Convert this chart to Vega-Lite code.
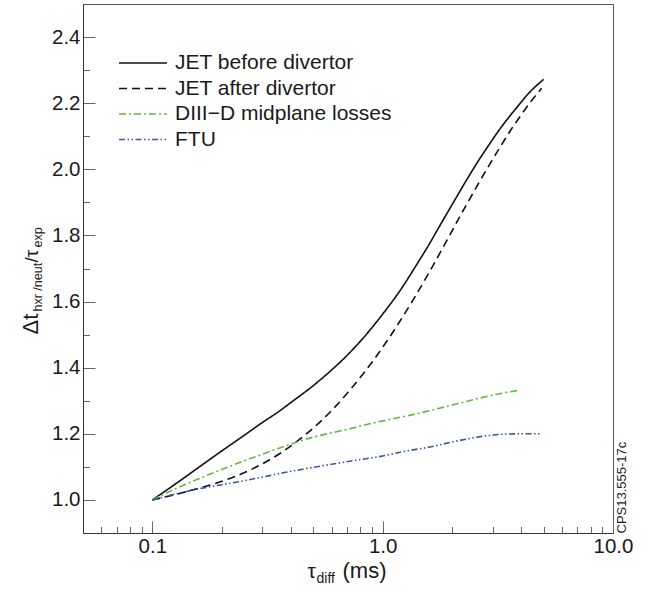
{
  "$schema": "https://vega.github.io/schema/vega-lite/v6.json",
  "width": 530,
  "height": 529,
  "autosize": {"type": "none"},
  "padding": {"left": 83, "top": 4, "right": 33, "bottom": 59},
  "background": "white",
  "config": {
    "view": {"stroke": "#555", "strokeWidth": 1},
    "font": "Liberation Sans",
    "axis": {"grid": false, "labelFont": "Liberation Sans", "titleFont": "Liberation Sans", "labelColor": "#1a1a1a", "titleColor": "#1a1a1a", "domainColor": "#333", "tickColor": "#666", "titleFontWeight": "normal", "labelFontWeight": "normal", "labelFlush": false, "labelOverlap": false}
  },
  "data": {"values": [
    {"s": "JET before divertor", "x": 0.1, "y": 1.0},
    {"s": "JET before divertor", "x": 0.13, "y": 1.055},
    {"s": "JET before divertor", "x": 0.16, "y": 1.1},
    {"s": "JET before divertor", "x": 0.2, "y": 1.148},
    {"s": "JET before divertor", "x": 0.25, "y": 1.195},
    {"s": "JET before divertor", "x": 0.3, "y": 1.234},
    {"s": "JET before divertor", "x": 0.35, "y": 1.265},
    {"s": "JET before divertor", "x": 0.4, "y": 1.295},
    {"s": "JET before divertor", "x": 0.5, "y": 1.346},
    {"s": "JET before divertor", "x": 0.6, "y": 1.393},
    {"s": "JET before divertor", "x": 0.7, "y": 1.437},
    {"s": "JET before divertor", "x": 0.8, "y": 1.48},
    {"s": "JET before divertor", "x": 1.0, "y": 1.562},
    {"s": "JET before divertor", "x": 1.2, "y": 1.637},
    {"s": "JET before divertor", "x": 1.4, "y": 1.71},
    {"s": "JET before divertor", "x": 1.6, "y": 1.776},
    {"s": "JET before divertor", "x": 1.8, "y": 1.838},
    {"s": "JET before divertor", "x": 2.06, "y": 1.908},
    {"s": "JET before divertor", "x": 2.31, "y": 1.967},
    {"s": "JET before divertor", "x": 2.6, "y": 2.025},
    {"s": "JET before divertor", "x": 2.9, "y": 2.075},
    {"s": "JET before divertor", "x": 3.3, "y": 2.131},
    {"s": "JET before divertor", "x": 3.8, "y": 2.185},
    {"s": "JET before divertor", "x": 4.4, "y": 2.237},
    {"s": "JET before divertor", "x": 5.0, "y": 2.272},
    {"s": "JET after divertor", "x": 0.1, "y": 1.0},
    {"s": "JET after divertor", "x": 0.13, "y": 1.019},
    {"s": "JET after divertor", "x": 0.16, "y": 1.036},
    {"s": "JET after divertor", "x": 0.19, "y": 1.051},
    {"s": "JET after divertor", "x": 0.25, "y": 1.082},
    {"s": "JET after divertor", "x": 0.3, "y": 1.109},
    {"s": "JET after divertor", "x": 0.37, "y": 1.147},
    {"s": "JET after divertor", "x": 0.45, "y": 1.191},
    {"s": "JET after divertor", "x": 0.55, "y": 1.244},
    {"s": "JET after divertor", "x": 0.63, "y": 1.286},
    {"s": "JET after divertor", "x": 0.7, "y": 1.322},
    {"s": "JET after divertor", "x": 0.88, "y": 1.408},
    {"s": "JET after divertor", "x": 1.04, "y": 1.479},
    {"s": "JET after divertor", "x": 1.15, "y": 1.525},
    {"s": "JET after divertor", "x": 1.35, "y": 1.603},
    {"s": "JET after divertor", "x": 1.6, "y": 1.691},
    {"s": "JET after divertor", "x": 1.9, "y": 1.785},
    {"s": "JET after divertor", "x": 2.19, "y": 1.864},
    {"s": "JET after divertor", "x": 2.4, "y": 1.913},
    {"s": "JET after divertor", "x": 2.65, "y": 1.966},
    {"s": "JET after divertor", "x": 2.95, "y": 2.021},
    {"s": "JET after divertor", "x": 3.24, "y": 2.068},
    {"s": "JET after divertor", "x": 3.64, "y": 2.124},
    {"s": "JET after divertor", "x": 3.95, "y": 2.16},
    {"s": "JET after divertor", "x": 4.4, "y": 2.205},
    {"s": "JET after divertor", "x": 4.9, "y": 2.245},
    {"s": "DIII−D midplane losses", "x": 0.1, "y": 1.0},
    {"s": "DIII−D midplane losses", "x": 0.13, "y": 1.038},
    {"s": "DIII−D midplane losses", "x": 0.16, "y": 1.065},
    {"s": "DIII−D midplane losses", "x": 0.2, "y": 1.092},
    {"s": "DIII−D midplane losses", "x": 0.25, "y": 1.118},
    {"s": "DIII−D midplane losses", "x": 0.3, "y": 1.138},
    {"s": "DIII−D midplane losses", "x": 0.35, "y": 1.155},
    {"s": "DIII−D midplane losses", "x": 0.42, "y": 1.174},
    {"s": "DIII−D midplane losses", "x": 0.5, "y": 1.19},
    {"s": "DIII−D midplane losses", "x": 0.6, "y": 1.203},
    {"s": "DIII−D midplane losses", "x": 0.72, "y": 1.215},
    {"s": "DIII−D midplane losses", "x": 0.9, "y": 1.232},
    {"s": "DIII−D midplane losses", "x": 1.1, "y": 1.245},
    {"s": "DIII−D midplane losses", "x": 1.35, "y": 1.258},
    {"s": "DIII−D midplane losses", "x": 1.6, "y": 1.27},
    {"s": "DIII−D midplane losses", "x": 2.0, "y": 1.287},
    {"s": "DIII−D midplane losses", "x": 2.5, "y": 1.304},
    {"s": "DIII−D midplane losses", "x": 3.0, "y": 1.317},
    {"s": "DIII−D midplane losses", "x": 3.5, "y": 1.326},
    {"s": "DIII−D midplane losses", "x": 3.95, "y": 1.332},
    {"s": "FTU", "x": 0.1, "y": 1.0},
    {"s": "FTU", "x": 0.13, "y": 1.02},
    {"s": "FTU", "x": 0.16, "y": 1.034},
    {"s": "FTU", "x": 0.2, "y": 1.046},
    {"s": "FTU", "x": 0.25, "y": 1.058},
    {"s": "FTU", "x": 0.3, "y": 1.069},
    {"s": "FTU", "x": 0.37, "y": 1.082},
    {"s": "FTU", "x": 0.45, "y": 1.093},
    {"s": "FTU", "x": 0.59, "y": 1.107},
    {"s": "FTU", "x": 0.75, "y": 1.119},
    {"s": "FTU", "x": 1.0, "y": 1.133},
    {"s": "FTU", "x": 1.27, "y": 1.148},
    {"s": "FTU", "x": 1.6, "y": 1.16},
    {"s": "FTU", "x": 2.0, "y": 1.175},
    {"s": "FTU", "x": 2.48, "y": 1.188},
    {"s": "FTU", "x": 2.9, "y": 1.195},
    {"s": "FTU", "x": 3.4, "y": 1.199},
    {"s": "FTU", "x": 4.0, "y": 1.2},
    {"s": "FTU", "x": 4.85, "y": 1.2}
  ]},
  "layer": [
    {
      "mark": {"type": "line", "interpolate": "monotone"},
      "encoding": {
        "x": {"field": "x", "type": "quantitative",
          "scale": {"type": "log", "domain": [0.05, 10], "nice": false},
          "axis": {"orient": "bottom", "values": [0.1, 1, 10], "format": ".1f", "tickSize": -12, "labelPadding": 15, "labelFontSize": 20.5,
            "title": "τ", "titleFontSize": 21, "titleX": 224, "titleY": 44, "titleAlign": "left", "titleBaseline": "alphabetic"}},
        "y": {"field": "y", "type": "quantitative",
          "scale": {"domain": [0.9, 2.5], "nice": false, "zero": false},
          "axis": {"orient": "left", "values": [1, 1.2, 1.4, 1.6, 1.8, 2, 2.2, 2.4], "format": ".1f", "tickSize": -12, "labelPadding": 15, "labelFontSize": 20.5,
            "title": "Δt", "titleFontSize": 22, "titleAngle": 270, "titleX": -46, "titleY": 330, "titleAlign": "left", "titleBaseline": "alphabetic"}},
        "color": {"field": "s", "type": "nominal",
          "scale": {"domain": ["JET before divertor", "JET after divertor", "DIII−D midplane losses", "FTU"], "range": ["#111111", "#111111", "#62b93a", "#3a56a8"]},
          "legend": {"orient": "none", "legendX": 47, "legendY": 46, "title": null, "symbolType": "M-2,0L2,0", "symbolSize": 576, "symbolStrokeWidth": 1.5, "labelFontSize": 21, "labelFont": "Liberation Sans", "labelColor": "#1a1a1a", "labelLimit": 0, "rowPadding": 2.5, "labelOffset": 19, "padding": 0}},
        "strokeDash": {"field": "s", "type": "nominal",
          "scale": {"domain": ["JET before divertor", "JET after divertor", "DIII−D midplane losses", "FTU"], "range": [[1, 0], [8, 5], [7, 3, 2, 3], [6, 2.5, 1.5, 2.5, 1.5, 2.5]]},
          "legend": {"orient": "none", "legendX": 47, "legendY": 46, "title": null, "symbolType": "M-2,0L2,0", "symbolSize": 576, "symbolStrokeWidth": 1.5, "labelFontSize": 21, "labelFont": "Liberation Sans", "labelColor": "#1a1a1a", "labelLimit": 0, "rowPadding": 2.5, "labelOffset": 19, "padding": 0}},
        "strokeWidth": {"field": "s", "type": "nominal",
          "scale": {"domain": ["JET before divertor", "JET after divertor", "DIII−D midplane losses", "FTU"], "range": [1.6, 1.6, 2, 2]}, "legend": null}
      }
    },
    {
      "mark": {"type": "point", "opacity": 0},
      "encoding": {
        "x": {"field": "x", "type": "quantitative",
          "axis": {"orient": "bottom", "values": [0.06, 0.07, 0.08, 0.09, 0.2, 0.3, 0.4, 0.5, 0.6, 0.7, 0.8, 0.9, 2, 3, 4, 5, 6, 7, 8, 9], "labels": false, "domain": false, "tickSize": -6.5,
            "title": "diff", "titleFontSize": 14, "titleX": 233, "titleY": 49, "titleAlign": "left", "titleBaseline": "alphabetic"}},
        "y": {"field": "y", "type": "quantitative",
          "axis": {"orient": "left", "values": [1.1, 1.3, 1.5, 1.7, 1.9, 2.1, 2.3], "labels": false, "domain": false, "tickSize": -6.5,
            "title": "hxr /neut", "titleFontSize": 12.5, "titleAngle": 270, "titleX": -42, "titleY": 307, "titleAlign": "left", "titleBaseline": "alphabetic"}}
      }
    },
    {
      "mark": {"type": "point", "opacity": 0},
      "encoding": {
        "x": {"field": "x", "type": "quantitative",
          "axis": {"orient": "bottom", "ticks": false, "labels": false, "domain": false,
            "title": "(ms)", "titleFontSize": 22, "titleX": 259, "titleY": 44, "titleAlign": "left", "titleBaseline": "alphabetic"}},
        "y": {"field": "y", "type": "quantitative",
          "axis": {"orient": "left", "ticks": false, "labels": false, "domain": false,
            "title": "/τ", "titleFontSize": 19, "titleAngle": 270, "titleX": -46, "titleY": 258, "titleAlign": "left", "titleBaseline": "alphabetic"}}
      }
    },
    {
      "mark": {"type": "point", "opacity": 0},
      "encoding": {
        "x": {"field": "x", "type": "quantitative", "axis": null},
        "y": {"field": "y", "type": "quantitative",
          "axis": {"orient": "left", "ticks": false, "labels": false, "domain": false,
            "title": "exp", "titleFontSize": 12.5, "titleAngle": 270, "titleX": -42, "titleY": 243, "titleAlign": "left", "titleBaseline": "alphabetic"}}
      }
    },
    {
      "mark": {"type": "point", "opacity": 0},
      "encoding": {
        "x": {"field": "x", "type": "quantitative", "axis": null},
        "y": {"field": "y", "type": "quantitative",
          "axis": {"orient": "right", "ticks": false, "labels": false, "domain": false,
            "title": "CPS13.555-17c", "titleFontSize": 13, "titleAngle": 270, "titleX": 12, "titleY": 529, "titleAlign": "left", "titleBaseline": "alphabetic"}}
      }
    }
  ],
  "resolve": {"axis": {"x": "independent", "y": "independent"}}
}
